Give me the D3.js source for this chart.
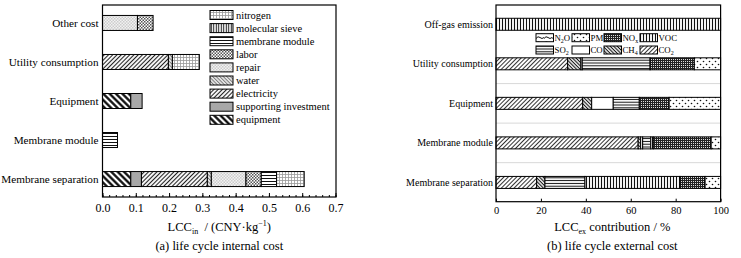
<!DOCTYPE html>
<html><head><meta charset="utf-8">
<script src="https://cdn.jsdelivr.net/npm/d3@7/dist/d3.min.js"></script>
<style>
html,body{margin:0;padding:0;background:#fff;}
svg{display:block;font-family:"Liberation Serif","Times New Roman",serif;}
</style></head>
<body>
<svg id="chart" width="741" height="258"></svg>
<script>
// ---------- DATA ----------
const leftCategories = ["Other cost","Utility consumption","Equipment","Membrane module","Membrane separation"];
const leftSeries = ["equipment","supporting investment","electricity","water","repair","labor","membrane module","molecular sieve","nitrogen"];
const leftEquipment   = [0, 0, 0.085, 0, 0.085];
const leftSupporting  = [0, 0, 0.034, 0, 0.032];
const leftElectricity = [0, 0.198, 0, 0, 0.198];
const leftWater       = [0, 0.012, 0, 0, 0.012];
const leftRepair      = [0.105, 0, 0, 0, 0.104];
const leftLabor       = [0.047, 0, 0, 0, 0.046];
const leftMembrane    = [0, 0, 0, 0.045, 0.046];
const leftMolSieve    = [0, 0, 0, 0, 0];
const leftNitrogen    = [0, 0.081, 0, 0, 0.083];
const leftValues = [leftEquipment,leftSupporting,leftElectricity,leftWater,leftRepair,leftLabor,leftMembrane,leftMolSieve,leftNitrogen];
const leftTicks = [0,0.1,0.2,0.3,0.4,0.5,0.6,0.7];

const rightCategories = ["Off-gas emission","Utility consumption","Equipment","Membrane module","Membrane separation"];
const rightSeries = ["CO2","CH4","CO","SO2","VOC","NOx","PM","N2O"];
const rightCO2 = [0, 31.9, 38.6, 63.3, 18.1];
const rightCH4 = [0, 5.9, 4.0, 1.1, 3.7];
const rightCO  = [0, 0.6, 9.6, 0.9, 0];
const rightSO2 = [0, 30.2, 11.6, 3.6, 17.8];
const rightVOC = [100, 0, 0, 1.1, 42.3];
const rightNOx = [0, 19.7, 13.3, 25.8, 11.2];
const rightPM  = [0, 11.7, 22.9, 4.2, 6.9];
const rightN2O = [0, 0, 0, 0, 0];
const rightValues = [rightCO2,rightCH4,rightCO,rightSO2,rightVOC,rightNOx,rightPM,rightN2O];
const rightTicks = [0,20,40,60,80,100];
// legend layout order (rows) for right chart
const rightLegendRows = [["N2O","PM","NOx","VOC"],["SO2","CO","CH4","CO2"]];

// ---------- PATTERNS ----------
const svg = d3.select("#chart");
svg.append("rect").attr("width",741).attr("height",258).attr("fill","#fff");
const defs = svg.append("defs");

function linePattern(id, size, angle, strokeW, color, bg){
  const p = defs.append("pattern").attr("id",id).attr("patternUnits","userSpaceOnUse")
    .attr("width",size).attr("height",size).attr("patternTransform",`rotate(${angle})`);
  p.append("rect").attr("width",size).attr("height",size).attr("fill",bg);
  p.append("line").attr("x1",size/2).attr("x2",size/2).attr("y1",0).attr("y2",size)
    .attr("stroke",color).attr("stroke-width",strokeW);
}
function gridPattern(id, size, strokeW, color, bg){
  const p = defs.append("pattern").attr("id",id).attr("patternUnits","userSpaceOnUse")
    .attr("width",size).attr("height",size);
  p.append("rect").attr("width",size).attr("height",size).attr("fill",bg);
  p.append("line").attr("x1",0).attr("x2",size).attr("y1",0.5).attr("y2",0.5).attr("stroke",color).attr("stroke-width",strokeW);
  p.append("line").attr("x1",0.5).attr("x2",0.5).attr("y1",0).attr("y2",size).attr("stroke",color).attr("stroke-width",strokeW);
}
function checkPattern(id, size, color, bg){
  const p = defs.append("pattern").attr("id",id).attr("patternUnits","userSpaceOnUse")
    .attr("width",size*2).attr("height",size*2);
  p.append("rect").attr("width",size*2).attr("height",size*2).attr("fill",bg);
  p.append("rect").attr("width",size).attr("height",size).attr("fill",color);
  p.append("rect").attr("x",size).attr("y",size).attr("width",size).attr("height",size).attr("fill",color);
}
function dotPattern(id, w, h, r, color, bg, offset){
  const p = defs.append("pattern").attr("id",id).attr("patternUnits","userSpaceOnUse")
    .attr("width",w).attr("height",h);
  p.append("rect").attr("width",w).attr("height",h).attr("fill",bg);
  p.append("circle").attr("cx",w*0.25).attr("cy",h*0.25).attr("r",r).attr("fill",color);
  if(offset) p.append("circle").attr("cx",w*0.75).attr("cy",h*0.75).attr("r",r).attr("fill",color);
}
function wavePattern(id){
  const p = defs.append("pattern").attr("id",id).attr("patternUnits","userSpaceOnUse")
    .attr("width",8).attr("height",5);
  p.append("rect").attr("width",8).attr("height",5).attr("fill","#fff");
  p.append("path").attr("d","M0,3.5 Q2,0.5 4,2.5 T8,2.5").attr("fill","none").attr("stroke","#111").attr("stroke-width",1);
}

// left patterns
linePattern("p-equipment", 4.5, -45, 2.2, "#000", "#fff");
linePattern("p-support", 2, 45, 0.9, "#666", "#ddd");
linePattern("p-electricity", 3, 45, 1.1, "#222", "#fff");
linePattern("p-water", 2.5, -45, 1, "#777", "#eee");
checkPattern("p-repair", 1.5, "#ccc", "#f2f2f2");
checkPattern("p-labor", 1.5, "#555", "#fff");
linePattern("p-membrane", 3, 90, 1, "#111", "#fff");
linePattern("p-molsieve", 2.5, 0, 1, "#111", "#fff");
gridPattern("p-nitrogen", 3, 0.8, "#999", "#fff");
const leftFill = {
  "equipment":"url(#p-equipment)","supporting investment":"url(#p-support)","electricity":"url(#p-electricity)",
  "water":"url(#p-water)","repair":"url(#p-repair)","labor":"url(#p-labor)","membrane module":"url(#p-membrane)",
  "molecular sieve":"url(#p-molsieve)","nitrogen":"url(#p-nitrogen)"
};
// right patterns
linePattern("r-co2", 3, 45, 1, "#333", "#fff");
linePattern("r-ch4", 2.5, -45, 1.1, "#111", "#fff");
linePattern("r-so2", 2.8, 90, 1, "#111", "#fff");
linePattern("r-voc", 3, 0, 1.1, "#111", "#fff");
gridPattern("r-nox", 2, 1, "#222", "#ddd");
dotPattern("r-pm", 6, 6, 0.8, "#111", "#fff", true);
wavePattern("r-n2o");
const rightFill = {"CO2":"url(#r-co2)","CH4":"url(#r-ch4)","CO":"#fff","SO2":"url(#r-so2)","VOC":"url(#r-voc)","NOx":"url(#r-nox)","PM":"url(#r-pm)","N2O":"url(#r-n2o)"};
const subLabel = {"CO2":["CO","2"],"CH4":["CH","4"],"CO":["CO",""],"SO2":["SO","2"],"VOC":["VOC",""],"NOx":["NO","x"],"PM":["PM",""],"N2O":["N","2","O"]};

// ---------- LEFT CHART ----------
const L = {x0:102.5, x1:336, y0:5, y1:197};
const xL = d3.scaleLinear().domain([0,0.7]).range([L.x0, L.x1-0.5]);
const yL = d3.scalePoint().domain(leftCategories).range([L.y0, L.y1]).padding(0.46);
const barHL = 15;

const leftStack = d3.stack().keys(leftSeries.map((s,i)=>i))(
  leftCategories.map((c,ci)=>{const o={cat:c}; leftValues.forEach((v,i)=>o[i]=v[ci]); return o;}));
const gL = svg.append("g");
leftStack.forEach((layer,si)=>{
  gL.selectAll(null).data(layer.filter(d=>d[1]-d[0]>0)).enter().append("rect")
    .attr("x",d=>xL(d[0])).attr("width",d=>xL(d[1])-xL(d[0]))
    .attr("y",d=>yL(d.data.cat)-barHL/2).attr("height",barHL)
    .attr("fill",leftFill[leftSeries[si]]).attr("stroke","#000").attr("stroke-width",1);
});
gL.append("rect").attr("x",L.x0).attr("y",L.y0).attr("width",L.x1-L.x0).attr("height",L.y1-L.y0)
  .attr("fill","none").attr("stroke","#000").attr("stroke-width",1.2);
// x axis
const axL = gL.append("g").attr("transform",`translate(0,${L.y1})`)
  .call(d3.axisBottom(xL).tickValues(leftTicks).tickFormat(d3.format(".1f")).tickSizeInner(-4).tickSizeOuter(0).tickPadding(6));
axL.select(".domain").remove();
axL.attr("font-family","Liberation Serif");
axL.selectAll("text").attr("font-size",12).attr("fill","#000");
const axLm = gL.append("g").attr("transform",`translate(0,${L.y1})`)
  .call(d3.axisBottom(xL).tickValues(d3.range(0,0.701,0.02)).tickFormat("").tickSizeInner(-2).tickSizeOuter(0));
axLm.select(".domain").remove();
// y labels
gL.selectAll(null).data(leftCategories).enter().append("text")
  .attr("x",L.x0-4).attr("y",d=>yL(d)).attr("dy","0.35em").attr("text-anchor","end")
  .attr("font-size",11.2).text(d=>d);
// legend
const legL = gL.append("g");
leftSeries.slice().reverse().forEach((s,i)=>{
  const cy = 15 + i*13.1;
  legL.append("rect").attr("x",210).attr("y",cy-4.5).attr("width",23).attr("height",9)
    .attr("fill",leftFill[s]).attr("stroke","#000").attr("stroke-width",1);
  legL.append("text").attr("x",236).attr("y",cy).attr("dy","0.35em").attr("font-size",10.5).text(s);
});
// titles
const tL = gL.append("text").attr("x",(L.x0+L.x1)/2).attr("y",231).attr("text-anchor","middle").attr("font-size",12.5);
tL.append("tspan").text("LCC");
tL.append("tspan").attr("font-size",8).attr("dy",3).text("in");
tL.append("tspan").attr("dy",-3).text("\u2002/ (CNY\u00B7kg");
tL.append("tspan").attr("font-size",8).attr("dy",-5).text("\u22121");
tL.append("tspan").attr("dy",5).text(")");
gL.append("text").attr("x",(L.x0+L.x1)/2).attr("y",250).attr("text-anchor","middle").attr("font-size",12.5)
  .text("(a) life cycle internal cost");

// ---------- RIGHT CHART ----------
const R = {x0:496, x1:720.6, y0:5, y1:201.7};
const xR = d3.scaleLinear().domain([0,100]).range([R.x0, R.x1]);
const yR = d3.scalePoint().domain(rightCategories).range([R.y0, R.y1]).padding(0.4875);
const barHR = 12;
const gR = svg.append("g");
// gridlines between categories (first one hidden by legend)
for(let i=1;i<rightCategories.length-1;i++){
  const gy = (yR(rightCategories[i])+yR(rightCategories[i+1]))/2;
  gR.append("line").attr("x1",R.x0).attr("x2",R.x1).attr("y1",gy).attr("y2",gy).attr("stroke","#d8d8d8").attr("stroke-width",1);
}
const rightStack = d3.stack().keys(rightSeries.map((s,i)=>i))(
  rightCategories.map((c,ci)=>{const o={cat:c}; rightValues.forEach((v,i)=>o[i]=v[ci]); return o;}));
rightStack.forEach((layer,si)=>{
  gR.selectAll(null).data(layer.filter(d=>d[1]-d[0]>0)).enter().append("rect")
    .attr("x",d=>xR(d[0])).attr("width",d=>xR(d[1])-xR(d[0]))
    .attr("y",d=>yR(d.data.cat)-barHR/2).attr("height",barHR)
    .attr("fill",rightFill[rightSeries[si]]).attr("stroke","#000").attr("stroke-width",1);
});
gR.append("rect").attr("x",R.x0).attr("y",R.y0).attr("width",R.x1-R.x0).attr("height",R.y1-R.y0)
  .attr("fill","none").attr("stroke","#000").attr("stroke-width",1.2);
const axR = gR.append("g").attr("transform",`translate(0,${R.y1})`)
  .call(d3.axisBottom(xR).tickValues(rightTicks).tickSizeInner(-3).tickSizeOuter(0).tickPadding(5));
axR.select(".domain").remove();
axR.attr("font-family","Liberation Serif");
axR.selectAll("text").attr("font-size",10.5).attr("fill","#000");
gR.selectAll(null).data(rightCategories).enter().append("text")
  .attr("x",R.x0-3).attr("y",d=>yR(d)).attr("dy","0.35em").attr("text-anchor","end")
  .attr("font-size",10).text(d=>d);
// legend
const legColX = [536, 572, 604, 640];
const legRowY = [37.7, 50];
rightLegendRows.forEach((row,ri)=>{
  row.forEach((s,ci)=>{
    const x = legColX[ci], cy = legRowY[ri];
    gR.append("rect").attr("x",x).attr("y",cy-4).attr("width",17.5).attr("height",8)
      .attr("fill",rightFill[s]).attr("stroke","#000").attr("stroke-width",1);
    const t = gR.append("text").attr("x",x+18.5).attr("y",cy).attr("dy","0.35em").attr("font-size",8.8);
    const parts = subLabel[s];
    t.append("tspan").text(parts[0]);
    if(parts[1]) t.append("tspan").attr("font-size",6).attr("dy",2).text(parts[1]);
    if(parts[2]) t.append("tspan").attr("dy",-2).text(parts[2]);
  });
});
const tR = gR.append("text").attr("x",(R.x0+R.x1)/2+4).attr("y",231).attr("text-anchor","middle").attr("font-size",12.5);
tR.append("tspan").text("LCC");
tR.append("tspan").attr("font-size",8).attr("dy",3).text("ex");
tR.append("tspan").attr("dy",-3).text(" contribution / %");
gR.append("text").attr("x",(R.x0+R.x1)/2+4).attr("y",250).attr("text-anchor","middle").attr("font-size",12.5)
  .text("(b) life cycle external cost");
</script>
</body></html>
